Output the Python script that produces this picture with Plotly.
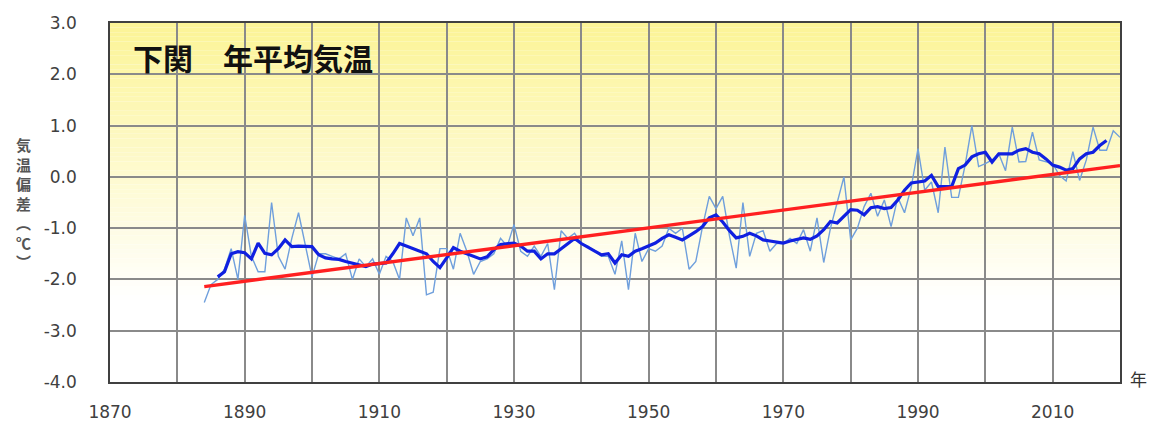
import plotly.graph_objects as go

# ---- data ----
annual_start = 1884
annual_vals = [
    -2.45, -2.10, -2.00, -1.80, -1.40, -2.00, -0.75, -1.55, -1.85, -1.85,  # 1884-1893
    -0.50, -1.55, -1.80, -1.20, -0.70, -1.30, -1.95, -1.50, -1.50, -1.55,  # 1894-1903
    -1.60, -1.50, -2.00, -1.60, -1.75, -1.60, -1.90, -1.55, -1.65, -2.00,  # 1904-1913
    -0.80, -1.15, -0.80, -2.30, -2.25, -1.40, -1.40, -1.80, -1.10, -1.45,  # 1914-1923
    -1.90, -1.65, -1.60, -1.50, -1.20, -1.35, -0.93, -1.45, -1.55, -1.35,  # 1924-1933
    -1.55, -1.30, -2.20, -1.05, -1.20, -1.10, -1.30, -1.35, -1.45, -1.55,  # 1934-1943
    -1.55, -1.90, -1.25, -2.20, -1.10, -1.65, -1.40, -1.45, -1.35, -1.00,  # 1944-1953
    -1.10, -1.00, -1.80, -1.65, -0.97, -0.38, -0.62, -0.38, -1.15, -1.78,  # 1954-1963
    -0.50, -1.55, -1.10, -1.05, -1.45, -1.30, -1.30, -1.20, -1.30, -1.03,  # 1964-1973
    -1.45, -0.80, -1.67, -1.00, -0.50, 0.00, -1.23, -1.00, -0.58, -0.32,   # 1974-1983
    -0.77, -0.45, -0.97, -0.40, -0.70, -0.20, 0.55, -0.26, -0.10, -0.70,   # 1984-1993
    0.58, -0.40, -0.40, 0.23, 1.00, 0.20, 0.26, 0.33, 0.45, 0.12,          # 1994-2003
    0.97, 0.29, 0.30, 0.87, 0.33, 0.30, 0.26, 0.03, -0.08, 0.49,           # 2004-2013
    -0.07, 0.33, 0.97, 0.52, 0.52, 0.90, 0.77,                             # 2014-2020
]
annual_years = list(range(annual_start, annual_start + len(annual_vals)))

ma_start = 1886
ma_vals = [
    -1.95, -1.85, -1.50, -1.46, -1.48, -1.60, -1.29, -1.49, -1.52, -1.40,  # 1886-1895
    -1.23, -1.36, -1.35, -1.35, -1.36, -1.52, -1.58, -1.60, -1.61, -1.65,  # 1896-1905
    -1.68, -1.72, -1.75, -1.70, -1.69, -1.68, -1.50, -1.30, -1.35, -1.40,  # 1906-1915
    -1.44, -1.50, -1.65, -1.77, -1.58, -1.38, -1.45, -1.50, -1.55, -1.60,  # 1916-1925
    -1.56, -1.42, -1.32, -1.30, -1.29, -1.35, -1.45, -1.45, -1.60, -1.50,  # 1926-1935
    -1.50, -1.40, -1.30, -1.20, -1.30, -1.38, -1.45, -1.52, -1.50, -1.68,  # 1936-1945
    -1.52, -1.55, -1.45, -1.40, -1.35, -1.29, -1.20, -1.13, -1.18, -1.23,  # 1946-1955
    -1.15, -1.07, -0.97, -0.80, -0.74, -0.88, -1.05, -1.19, -1.16, -1.10,  # 1956-1965
    -1.15, -1.23, -1.25, -1.27, -1.29, -1.25, -1.22, -1.19, -1.22, -1.15,  # 1966-1975
    -1.03, -0.87, -0.90, -0.78, -0.64, -0.65, -0.74, -0.60, -0.58, -0.62,  # 1976-1985
    -0.60, -0.45, -0.26, -0.12, -0.10, -0.08, 0.03, -0.19, -0.19, -0.19,   # 1986-1995
    0.16, 0.23, 0.39, 0.45, 0.48, 0.29, 0.45, 0.45, 0.45, 0.52,            # 1996-2005
    0.55, 0.48, 0.45, 0.35, 0.23, 0.19, 0.13, 0.16, 0.35, 0.45,            # 2006-2015
    0.48, 0.61, 0.71,                                                      # 2016-2018
]
ma_years = list(range(ma_start, ma_start + len(ma_vals)))

trend_years = [1884, 2020]
trend_vals = [-2.14, 0.22]

x_tick_vals = [1870, 1890, 1910, 1930, 1950, 1970, 1990, 2010]
y_tick_vals = [3, 2, 1, 0, -1, -2, -3, -4]
y_tick_text = ["3.0", "2.0", "1.0", "0.0", "-1.0", "-2.0", "-3.0", "-4.0"]

title_text = "下関　年平均気温"
y_label = "気<br>温<br>偏<br>差<br>︵<br>℃<br>︶"
x_unit = "年"

# ---- figure ----
fig = go.Figure()

fig.add_trace(go.Scatter(x=annual_years, y=annual_vals, mode="lines",
                         line=dict(color="#6f9fdc", width=1.4), hoverinfo="skip"))
fig.add_trace(go.Scatter(x=ma_years, y=ma_vals, mode="lines",
                         line=dict(color="#1020e0", width=3.2), hoverinfo="skip"))
fig.add_trace(go.Scatter(x=trend_years, y=trend_vals, mode="lines",
                         line=dict(color="#ff2020", width=3.4), hoverinfo="skip"))

# background gradient (yellow at top -> white at bottom)
top_c = (252, 244, 150)
bot_c = (255, 255, 255)
n = 60
y_hi, y_lo = 3.0, -2.4
shapes = []
for i in range(n):
    a = y_hi - (y_hi - y_lo) * i / n
    b = y_hi - (y_hi - y_lo) * (i + 1) / n
    t = (i + 0.5) / n
    c = tuple(round(top_c[k] + (bot_c[k] - top_c[k]) * t) for k in range(3))
    shapes.append(dict(type="rect", xref="paper", yref="y", x0=0, x1=1, y0=b, y1=a,
                       fillcolor=f"rgb{c}", line=dict(width=0), layer="below"))

fig.update_layout(
    width=1150, height=422,
    margin=dict(l=110, r=30, t=23, b=40),
    paper_bgcolor="white",
    plot_bgcolor="white",
    showlegend=False,
    shapes=shapes,
    font=dict(family="DejaVu Sans", color="#404040"),
)

fig.update_xaxes(
    range=[1870, 2020], tickvals=x_tick_vals, ticks="", automargin=False,
    showgrid=True, gridcolor="#8a8a8a", gridwidth=1.5,
    minor=dict(dtick=10, tick0=1870, showgrid=True, gridcolor="#8a8a8a", gridwidth=1.5),
    showline=True, linecolor="#404040", linewidth=1.5, mirror=True,
    tickfont=dict(size=17, color="#404040"), ticklabelstandoff=14, zeroline=False,
)
fig.update_yaxes(
    range=[-4, 3], tickvals=y_tick_vals, ticktext=y_tick_text, ticks="", automargin=False,
    showgrid=True, gridcolor="#8a8a8a", gridwidth=1.5,
    showline=True, linecolor="#404040", linewidth=1.5, mirror=True,
    tickfont=dict(size=17, color="#404040"), ticklabelstandoff=28, zeroline=False,
)

fig.add_annotation(text=f"<b>{title_text}</b>", xref="paper", yref="paper",
                   x=0.021, y=0.905, xanchor="left", yanchor="middle", showarrow=False,
                   font=dict(family="Noto Sans CJK JP", size=30, color="#111111"))
fig.add_annotation(text=f"<b>{y_label}</b>", xref="paper", yref="paper",
                   x=-0.086, y=0.50, xanchor="center", yanchor="middle", showarrow=False,
                   font=dict(family="Noto Sans CJK JP", size=15, color="#555555"))
fig.add_annotation(text=x_unit, xref="paper", yref="paper",
                   x=1.008, y=0.01, xanchor="left", yanchor="middle", showarrow=False,
                   font=dict(family="Noto Sans CJK JP", size=17, color="#333333"))

fig.write_html("out.html", config={"displayModeBar": False},
               post_script="document.body.style.margin='0';")
